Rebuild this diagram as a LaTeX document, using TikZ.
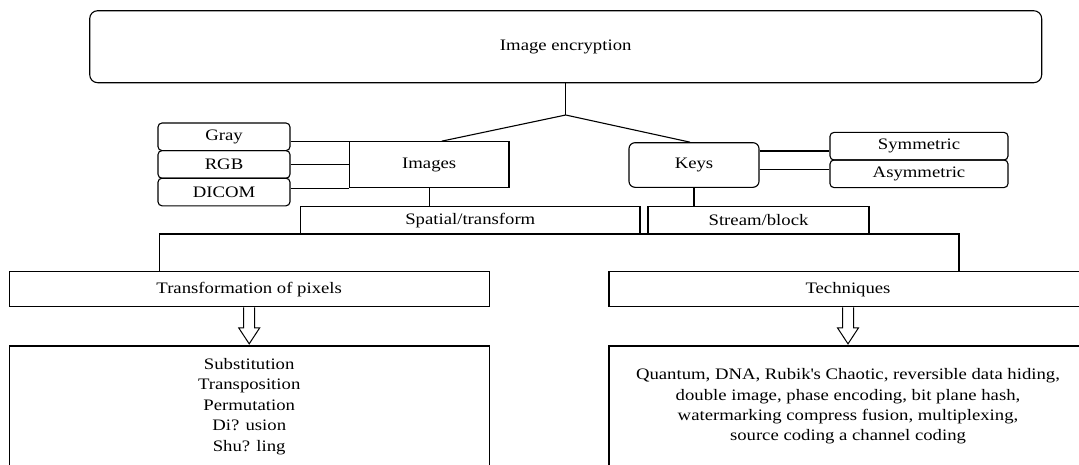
\documentclass[tikz,border=0pt]{standalone}
\usepackage{fontspec}
\setmainfont[FakeStretch=1.17]{Liberation Serif}
\tikzstyle{plainbox}=[draw, rectangle, inner sep=0pt, align=center]
\tikzstyle{roundbox}=[plainbox, rounded corners=4pt]
\tikzstyle{edge}=[draw]
\newcommand{\hollowarrow}[1]{%
  \draw[line width=1pt, line join=miter] (#1.south) ++(-5.5,0) -- ++(0,20.6) -- ++(-5,0)
    -- ++(10.5,16) -- ++(10.5,-16) -- ++(-5,0) -- ++(0,-20.6);}
\begin{document}
\begin{tikzpicture}[x=1pt, y=-1pt, line width=1.1pt, font=\fontsize{16}{20.4}\selectfont]

    \useasboundingbox (0,0) rectangle (1079,464);
    \clip (0,0) rectangle (1079,464);

    \node[roundbox, rounded corners=8pt, minimum width=952, minimum height=72] (enc) at (565.7,46.7) {Image encryption};

    \foreach \x/\y/\name/\txt in {224/136.8/gray/Gray, 224/164.4/rgb/RGB, 224/192/dicom/DICOM}
        \node[roundbox, minimum width=132, minimum height=27.6] (\name) at (\x,\y) {\txt};

    \foreach \x/\y/\name/\txt in {919/146.2/sym/Symmetric, 919/173.8/asym/Asymmetric}
        \node[roundbox, minimum width=178, minimum height=27.6] (\name) at (\x,\y) {\txt};

    \node[plainbox, minimum width=159.5, minimum height=46] (images) at (429.2,164.7) {Images};
    \node[roundbox, rounded corners=6pt, minimum width=130, minimum height=44.6] (keys) at (694,165) {Keys};

    \node[plainbox, minimum width=339.4, minimum height=27.3] (spatial) at (470.3,220.3) {Spatial/transform};
    \node[plainbox, minimum width=221, minimum height=27.3] (stream) at (758.5,220.3) {Stream/block};

    \node[plainbox, minimum width=479.7, minimum height=35] (trans) at (249.2,289.2) {Transformation of pixels};
    \node[plainbox, minimum width=478, minimum height=35] (tech) at (848,289.2) {Techniques};

    \node[plainbox, minimum width=479.7, minimum height=121] (ops) at (249.2,406.5)
        {Substitution\\Transposition\\Permutation\\Di? usion\\Shu? ling};
    \node[plainbox, minimum width=478, minimum height=121] (list) at (848,406.5)
        {Quantum, DNA, Rubik\textquotesingle s Chaotic, reversible data hiding,\\double image, phase encoding, bit plane hash,\\watermarking compress fusion, multiplexing,\\source coding a channel coding};

    \coordinate (apex) at (565.7,115);
    \coordinate (barl) at (159.4,234);
    \coordinate (barr) at (959,234);

    \path[edge] (enc.south) -- (apex);
    \path[edge] ([xshift=12.5pt]images.north) -- (apex) -- ([xshift=-4pt]keys.north);

    \path[edge] (gray.east |- images.north west) -- (images.north west);
    \path[edge] (rgb.east) -- (rgb.east -| images.west);
    \path[edge] (dicom.east |- images.south west) -- (images.south west);

    \path[edge] ([yshift=14pt]keys.east) -- ([yshift=-4.8pt]sym.west);
    \path[edge] ([yshift=-4.3pt]keys.east) -- ([yshift=4.5pt]asym.west);

    \path[edge] (images.south) -- (images.south |- spatial.north);
    \path[edge] (keys.south) -- (keys.south |- stream.north);

    \path[edge] (trans.north -| barl) -- (barl) -- (barr) -- (tech.north -| barr);

    \hollowarrow{trans}
    \hollowarrow{tech}

\end{tikzpicture}
\end{document}
